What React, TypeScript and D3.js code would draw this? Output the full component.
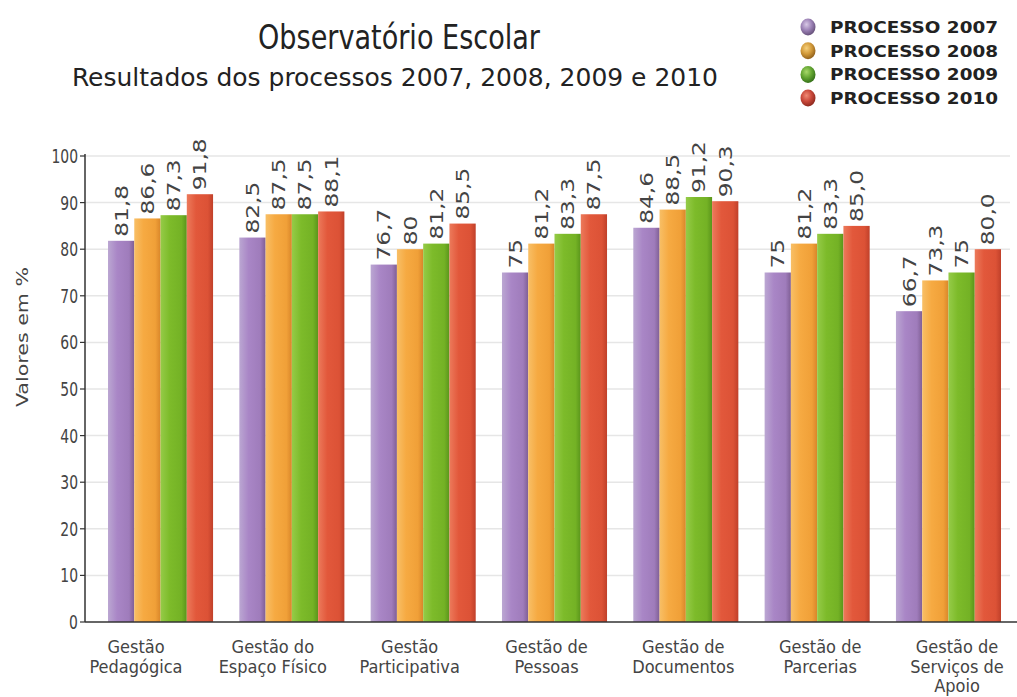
import React from "react";
import * as d3 from "d3";

const categories = [
  "Gestão Pedagógica",
  "Gestão do Espaço Físico",
  "Gestão Participativa",
  "Gestão de Pessoas",
  "Gestão de Documentos",
  "Gestão de Parcerias",
  "Gestão de Serviços de Apoio",
];
const categoryLines = [
  ["Gestão", "Pedagógica"],
  ["Gestão do", "Espaço Físico"],
  ["Gestão", "Participativa"],
  ["Gestão de", "Pessoas"],
  ["Gestão de", "Documentos"],
  ["Gestão de", "Parcerias"],
  ["Gestão de", "Serviços de", "Apoio"],
];
const seriesNames = ["PROCESSO 2007", "PROCESSO 2008", "PROCESSO 2009", "PROCESSO 2010"];
const values2007 = [81.8, 82.5, 76.7, 75, 84.6, 75, 66.7];
const values2008 = [86.6, 87.5, 80, 81.2, 88.5, 81.2, 73.3];
const values2009 = [87.3, 87.5, 81.2, 83.3, 91.2, 83.3, 75];
const values2010 = [91.8, 88.1, 85.5, 87.5, 90.3, 85.0, 80.0];
const labels2007 = ["81,8", "82,5", "76,7", "75", "84,6", "75", "66,7"];
const labels2008 = ["86,6", "87,5", "80", "81,2", "88,5", "81,2", "73,3"];
const labels2009 = ["87,3", "87,5", "81,2", "83,3", "91,2", "83,3", "75"];
const labels2010 = ["91,8", "88,1", "85,5", "87,5", "90,3", "85,0", "80,0"];
const yTicks = [0, 10, 20, 30, 40, 50, 60, 70, 80, 90, 100];

const seriesValues = [values2007, values2008, values2009, values2010];
const seriesLabels = [labels2007, labels2008, labels2009, labels2010];

const barGradients = [
  ["#bba7d2", "#a986c6", "#9f7cbb", "#7f5f95"],
  ["#f8bf66", "#f6aa42", "#f0a038", "#d9862a"],
  ["#95cb48", "#7dbb2a", "#74b225", "#5a951b"],
  ["#ec7a5b", "#e2583b", "#dc5236", "#c0402a"],
];
const sphereColors = [
  ["#d8c8e6", "#9c82b6", "#5f4a72"],
  ["#f6d07c", "#d29a3a", "#8a5a18"],
  ["#a8d86a", "#64a632", "#2f6a16"],
  ["#f08a74", "#c9483a", "#84241a"],
];

const FONT = "'DejaVu Sans Condensed', 'DejaVu Sans', sans-serif";

export default function App() {
  const width = 1017;
  const height = 697;
  const y = d3.scaleLinear().domain([0, 100]).range([622, 156]);
  const x0 = d3.scaleBand<string>().domain(categories).range([108, 1001]).paddingInner(0.2).paddingOuter(0);
  const x1 = d3.scaleBand<string>().domain(seriesNames).range([0, x0.bandwidth()]).padding(0);
  const xLabel = d3.scalePoint<string>().domain(categories).range([136, 957]);
  const axisX = 85;

  return (
    <svg width={width} height={height} style={{ position: "fixed", left: 0, top: 0, background: "#fff" }}>
      <defs>
        {barGradients.map((stops, i) => (
          <linearGradient key={i} id={`bar${i}`} x1="0" y1="0" x2="1" y2="0">
            <stop offset="0" stopColor={stops[0]} />
            <stop offset="0.35" stopColor={stops[1]} />
            <stop offset="0.8" stopColor={stops[2]} />
            <stop offset="1" stopColor={stops[3]} />
          </linearGradient>
        ))}
        {sphereColors.map((c, i) => (
          <radialGradient key={i} id={`sph${i}`} cx="0.4" cy="0.35" r="0.7">
            <stop offset="0" stopColor={c[0]} />
            <stop offset="0.5" stopColor={c[1]} />
            <stop offset="1" stopColor={c[2]} />
          </radialGradient>
        ))}
      </defs>

      {/* Title */}
      <text x={399} y={49} textAnchor="middle" fontFamily={FONT} fontSize={33} fill="#222"
        textLength={282} lengthAdjust="spacingAndGlyphs">Observatório Escolar</text>
      <text x={395} y={86} textAnchor="middle" fontFamily={FONT} fontSize={25} fill="#222"
        textLength={646} lengthAdjust="spacingAndGlyphs">Resultados dos processos 2007, 2008, 2009 e 2010</text>

      {/* Legend */}
      {seriesNames.map((s, i) => {
        const cy = 27 + i * 23.7;
        return (
          <g key={s}>
            <ellipse cx={808} cy={cy} rx={7.5} ry={8.5} fill={`url(#sph${i})`} />
            <text x={830} y={cy + 6} fontFamily={FONT} fontWeight="bold" fontSize={16} fill="#222"
              textLength={168} lengthAdjust="spacingAndGlyphs">{s}</text>
          </g>
        );
      })}

      {/* Grid */}
      {yTicks.filter((t) => t > 0).map((t) => (
        <line key={t} x1={axisX} x2={1010} y1={y(t)} y2={y(t)} stroke="#e6e6e6" strokeWidth={1.5} />
      ))}

      {/* Bars */}
      {categories.map((c, ci) => (
        <g key={c} transform={`translate(${x0(c)},0)`}>
          {seriesNames.map((s, si) => {
            const v = seriesValues[si][ci];
            return (
              <rect key={s} x={x1(s)} y={y(v)} width={x1.bandwidth()} height={y(0) - y(v)} fill={`url(#bar${si})`} />
            );
          })}
        </g>
      ))}

      {/* Value labels */}
      {categories.map((c, ci) =>
        seriesNames.map((s, si) => {
          const v = seriesValues[si][ci];
          const cx = (x0(c) as number) + (x1(s) as number) + x1.bandwidth() / 2;
          return (
            <g key={c + s} transform={`translate(${cx + 6.5},${y(v) - 4}) rotate(-90) scale(1.4,1)`}>
              <text x={0} y={0} fontFamily={FONT} fontSize={18.5} fill="#444">{seriesLabels[si][ci]}</text>
            </g>
          );
        })
      )}

      {/* Axes */}
      <line x1={axisX} x2={axisX} y1={y(100) - 2} y2={y(0)} stroke="#333" strokeWidth={1.5} />
      <line x1={axisX} x2={1017} y1={y(0)} y2={y(0)} stroke="#333" strokeWidth={1.5} />
      {yTicks.map((t) => (
        <g key={t}>
          <line x1={axisX - 5} x2={axisX} y1={y(t)} y2={y(t)} stroke="#333" strokeWidth={1.2} />
          <g transform={`translate(${axisX - 7},${y(t) + 7}) scale(1,1.25)`}>
            <text x={0} y={0} textAnchor="end" fontFamily={FONT} fontSize={15.5} fill="#444">{t}</text>
          </g>
        </g>
      ))}

      {/* Y axis title */}
      <text transform={`translate(28,337) rotate(-90)`} textAnchor="middle" fontFamily={FONT} fontSize={16}
        fill="#444" textLength={140} lengthAdjust="spacingAndGlyphs">Valores em %</text>

      {/* X labels */}
      {categories.map((c, ci) => (
        <text key={c} x={xLabel(c)} y={653} textAnchor="middle" fontFamily={FONT} fontSize={18} fill="#444">
          {categoryLines[ci].map((line, li) => (
            <tspan key={li} x={xLabel(c)} dy={li === 0 ? 0 : 19.5}>{line}</tspan>
          ))}
        </text>
      ))}
    </svg>
  );
}
